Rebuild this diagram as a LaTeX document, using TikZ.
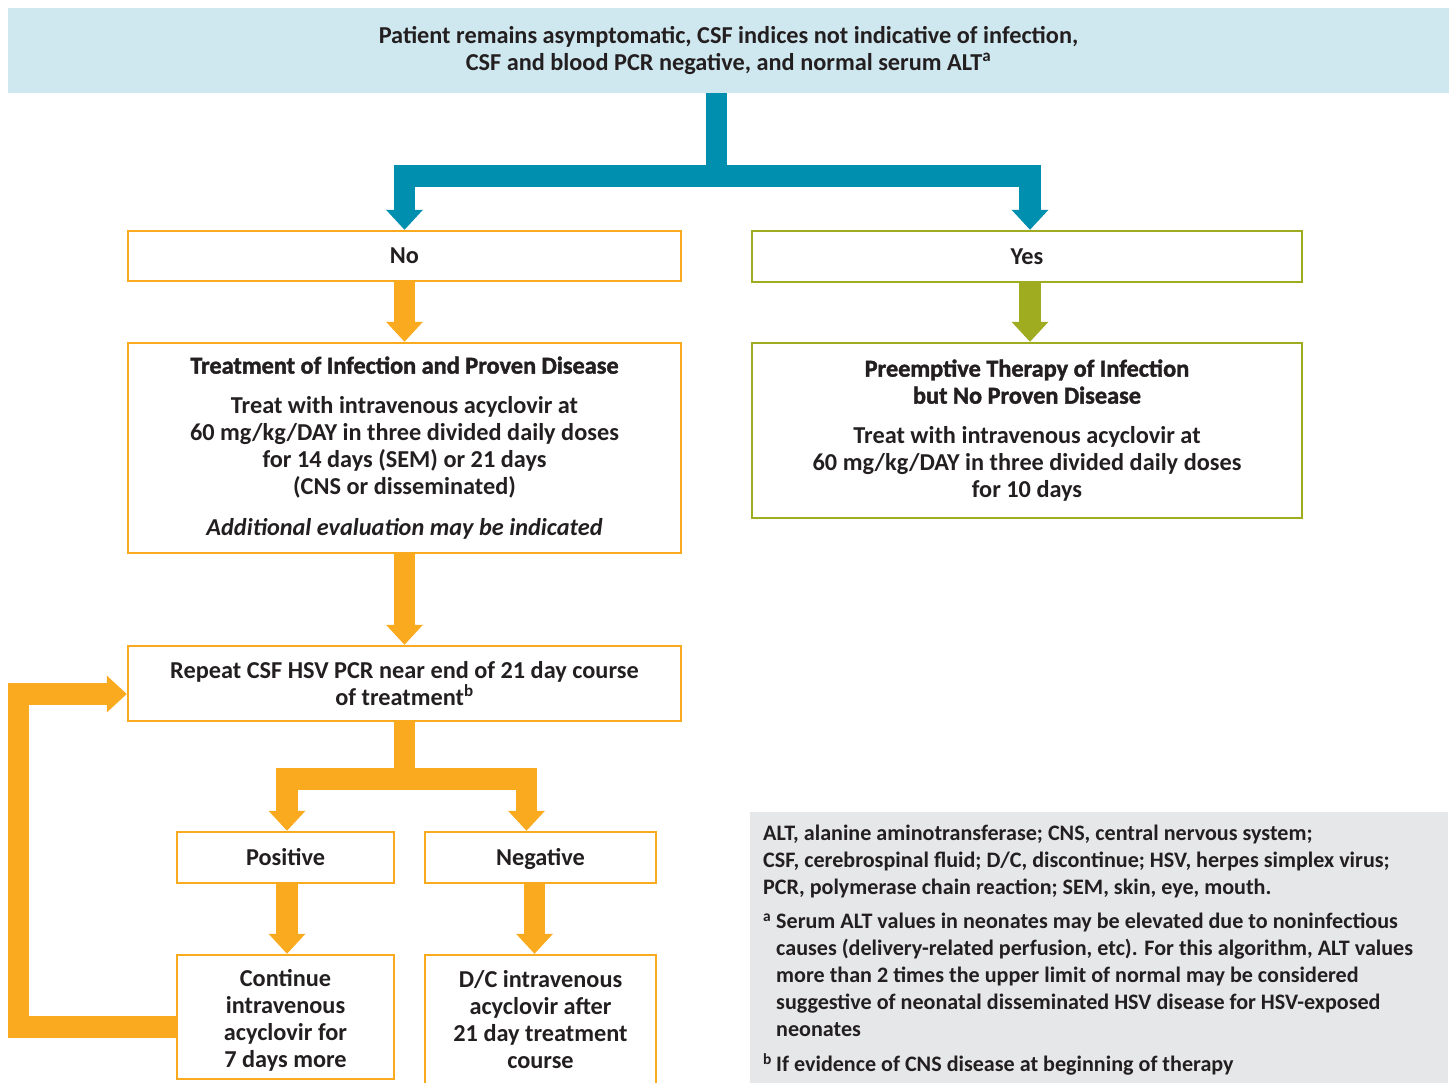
\documentclass[tikz,border=0pt]{standalone}
\usepackage{fontspec}
\setmainfont{Carlito}
\newfontfamily\heavyfont{Carlito}[FakeBold=1.6]
\newcommand\headfont{\heavyfont\bfseries}
\usetikzlibrary{arrows.meta}
\definecolor{flowteal}{RGB}{0,143,175}
\definecolor{floworange}{RGB}{249,170,30}
\definecolor{flowolive}{RGB}{160,172,32}
\definecolor{flowsky}{RGB}{207,231,238}
\definecolor{flowgray}{RGB}{230,231,232}
\definecolor{flowink}{RGB}{35,31,32}
\begin{document}
\begin{tikzpicture}[x=1pt,y=-1pt,
  every node/.style={text=flowink, font=\bfseries\fontsize{24.3}{27}\selectfont, inner sep=0pt},
  obox/.style={draw=floworange, line width=2.5pt, align=center},
  gbox/.style={draw=flowolive, line width=2.5pt, align=center},
  oneline/.style={text height=16pt, text depth=0pt},
  fat/.style={line width=21.5pt, line join=miter, line cap=butt,
    -{Triangle[width=37pt,length=20pt,line width=0pt]}},
  tealflow/.style={fat, color=flowteal},
  orangeflow/.style={fat, color=floworange},
  oliveflow/.style={fat, color=flowolive}]
\useasboundingbox (0,0) rectangle (1453,1082);

% header
\node[fill=flowsky, minimum width=1441pt, minimum height=85pt, align=center] (top) at (728.5,50.5)
  {Patient remains asymptomatic, CSF indices not indicative of infection,\\
   CSF and blood PCR negative, and normal serum ALT\textsuperscript{a}};

% left branch
\node[obox, minimum width=553pt, minimum height=50pt] (no) at (404.5,256) {No};
\node[obox, minimum width=553pt, minimum height=210pt] (treat) at (404.5,448)
  {{\headfont Treatment of Infection and Proven Disease}\\[13pt]
   Treat with intravenous acyclovir at\\
   60 mg/kg/DAY in three divided daily doses\\
   for 14 days (SEM) or 21 days\\
   (CNS or disseminated)\\[14pt]
   {\itshape Additional evaluation may be indicated}};
\node[obox, minimum width=553pt, minimum height=75pt] (repeat) at (404.5,683.5)
  {Repeat CSF HSV PCR near end of 21 day course\\ of treatment\textsuperscript{b}};
\node[obox, oneline, minimum width=217pt, minimum height=51pt] (pos) at (285.5,857.5) {Positive};
\node[obox, oneline, minimum width=231pt, minimum height=51pt] (neg) at (540.5,857.5) {Negative};
\node[obox, minimum width=217pt, minimum height=124pt] (cont) at (285.5,1017)
  {\rule{0pt}{24pt}Continue\\ intravenous\\ acyclovir for\\ 7 days more};
\node[obox, minimum width=231pt, minimum height=129pt] (dc) at (540.5,1019.5)
  {D/C intravenous\\ acyclovir after\\ 21 day treatment\\ course};

% right branch
\node[gbox, minimum width=550pt, minimum height=51pt] (yes) at (1027,256.5) {Yes};
\node[gbox, minimum width=550pt, minimum height=175pt] (pre) at (1027,430.5)
  {{\headfont Preemptive Therapy of Infection}\\
   {\headfont but No Proven Disease}\\[13pt]
   Treat with intravenous acyclovir at\\
   60 mg/kg/DAY in three divided daily doses\\
   for 10 days};

% abbreviations and notes
\node[fill=flowgray, minimum width=698pt, minimum height=280pt, anchor=north west] (legend) at (750,812) {};
\node[anchor=north west, align=left, font=\bfseries\fontsize{22.1}{27}\selectfont] (legendtext) at (763,825)
  {ALT, alanine aminotransferase; CNS, central nervous system;\\
   CSF, cerebrospinal fluid; D/C, discontinue; HSV, herpes simplex virus;\\
   PCR, polymerase chain reaction; SEM, skin, eye, mouth.\\[7pt]
   \makebox[13pt][l]{\textsuperscript{a}}Serum ALT values in neonates may be elevated due to noninfectious\\
   \hspace*{13pt}causes (delivery-related perfusion, etc). For this algorithm, ALT values\\
   \hspace*{13pt}more than 2 times the upper limit of normal may be considered\\
   \hspace*{13pt}suggestive of neonatal disseminated HSV disease for HSV-exposed\\
   \hspace*{13pt}neonates\\[8pt]
   \makebox[13pt][l]{\textsuperscript{b}}If evidence of CNS disease at beginning of therapy};

% connectors
\coordinate (split) at (716.5,176);
\draw[tealflow] (top.south -| split) -- (split) -| (no.north);
\draw[tealflow] (split) -| ([xshift=3pt]yes.north);
\draw[oliveflow] ([xshift=3pt]yes.south) -- ([xshift=3pt]pre.north);
\draw[orangeflow] (no.south) -- (treat.north);
\draw[orangeflow] (treat.south) -- (repeat.north);
\coordinate (split2) at (404.5,779);
\draw[orangeflow] (repeat.south) -- (split2) -| ([xshift=1.5pt]pos.north);
\draw[orangeflow] (split2) -| ([xshift=-14pt]neg.north);
\draw[orangeflow] ([xshift=1.5pt]pos.south) -- ([xshift=1.5pt]cont.north);
\draw[orangeflow] ([xshift=-6pt]neg.south) -- ([xshift=-6pt]dc.north);
\coordinate (loopcorner) at (18.5,694);
\draw[orangeflow] ([yshift=-10pt]cont.west) -| (loopcorner) -- ([yshift=-10.5pt]repeat.west);
\end{tikzpicture}
\end{document}
